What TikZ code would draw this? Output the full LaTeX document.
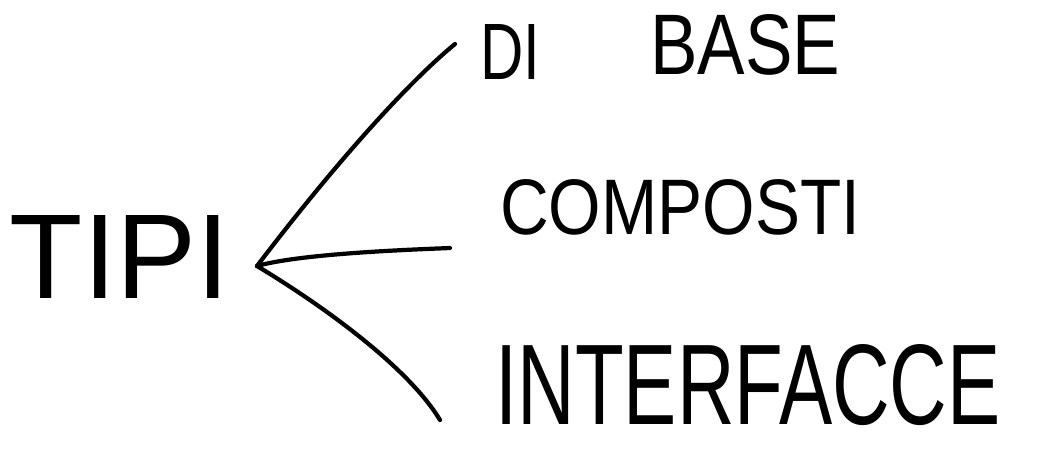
\documentclass[tikz,border=0pt]{standalone}
\usepackage{graphicx}
\usepackage{fontspec}
\setmainfont{Liberation Sans}
\tikzset{
  hand/.style={line width=2.4pt, line cap=round, line join=round, black},
  word/.style={inner sep=0pt, outer sep=0pt, anchor=center}
}
\begin{document}
\begin{tikzpicture}[x=0.02cm,y=-0.02cm]
\useasboundingbox (0,0) rectangle (1037,451);
\fill[white] (0,0) rectangle (1037,451);
% texts
\node[word] (tipi) at (120,257) {\resizebox{4.4cm}{1.66cm}{TIPI}};
\node[word] (di) at (510,52) {\resizebox{1.2cm}{1.1cm}{DI}};
\node[word] (base) at (745,45) {\resizebox{3.8cm}{1.2cm}{BASE}};
\node[word] (comp) at (680,207) {\resizebox{7.2cm}{1.1cm}{COMPOSTI}};
\node[word] (inter) at (748,385) {\resizebox{10.1cm}{1.6cm}{INTERFACCE}};
% branch point and connector ends
\coordinate (b) at (257,266);
\coordinate (e1) at (455,44);
\coordinate (e2) at (450,248);
\coordinate (e3) at (440,420);
\draw[hand] (b) .. controls (330,170) and (405,85) .. (e1);
\draw[hand] (b) .. controls (300,254) and (400,250) .. (e2);
\draw[hand] (b) .. controls (330,310) and (410,370) .. (e3);
\end{tikzpicture}
\end{document}
